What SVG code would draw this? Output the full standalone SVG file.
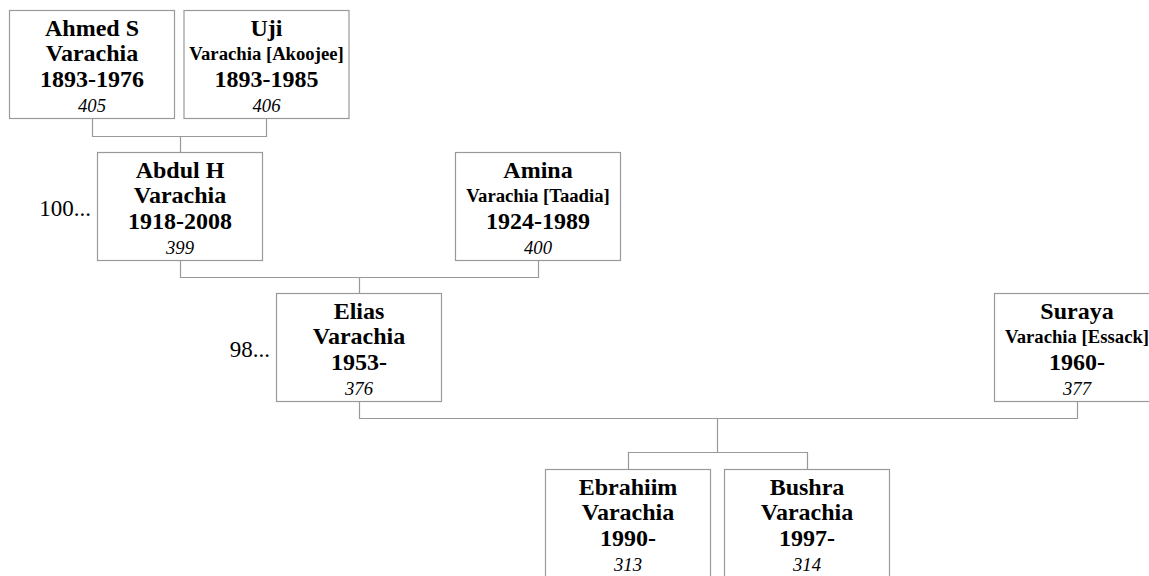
<svg xmlns="http://www.w3.org/2000/svg" width="1149" height="576" viewBox="0 0 1149 576">
<style>
  .box { fill: #ffffff; stroke: #999999; stroke-width: 1.2; }
  .conn { fill: none; stroke: #999999; stroke-width: 1.2; }
  text { font-family: "Liberation Serif", "Times New Roman", serif; fill: #000000; text-anchor: middle; }
  .n { font-size: 24px; font-weight: bold; }
  .s { font-size: 18.7px; font-weight: bold; }
  .id { font-size: 18.7px; font-style: italic; }
  .more { font-size: 23px; text-anchor: end; }
</style>
<rect x="0" y="0" width="1149" height="576" fill="#ffffff"/>
<g id="connectors">
  <path class="conn" d="M92.5,119 V136.5 H266.5 V119 M180.5,136.5 V152"/>
  <path class="conn" d="M180.5,261 V277.5 H538.5 V261 M359.5,277.5 V293"/>
  <path class="conn" d="M359.5,402 V418.5 H1077.5 V402 M717.5,418.5 V452.5"/>
  <path class="conn" d="M628.5,469 V452.5 H807.5 V469"/>
</g>
<g id="p405">
  <rect class="box" x="9.5" y="10.5" width="165" height="108"/>
  <text class="n" x="92" y="36">Ahmed S</text>
  <text class="n" x="92" y="61">Varachia</text>
  <text class="n" x="92" y="87">1893-1976</text>
  <text class="id" x="92" y="111.5">405</text>
</g>
<g id="p406">
  <rect class="box" x="184" y="10.5" width="165" height="108"/>
  <text class="n" x="266.5" y="36">Uji</text>
  <text class="s" x="266.5" y="60">Varachia [Akoojee]</text>
  <text class="n" x="266.5" y="87">1893-1985</text>
  <text class="id" x="266.5" y="111.5">406</text>
</g>
<g id="p399">
  <rect class="box" x="97.5" y="152.5" width="165" height="108"/>
  <text class="n" x="180" y="178">Abdul H</text>
  <text class="n" x="180" y="203">Varachia</text>
  <text class="n" x="180" y="229">1918-2008</text>
  <text class="id" x="180" y="253.5">399</text>
  <text class="more" x="91" y="216">100...</text>
</g>
<g id="p400">
  <rect class="box" x="455.5" y="152.5" width="165" height="108"/>
  <text class="n" x="538" y="178">Amina</text>
  <text class="s" x="538" y="202">Varachia [Taadia]</text>
  <text class="n" x="538" y="229">1924-1989</text>
  <text class="id" x="538" y="253.5">400</text>
</g>
<g id="p376">
  <rect class="box" x="276.5" y="293.5" width="165" height="108"/>
  <text class="n" x="359" y="319">Elias</text>
  <text class="n" x="359" y="344">Varachia</text>
  <text class="n" x="359" y="370">1953-</text>
  <text class="id" x="359" y="394.5">376</text>
  <text class="more" x="270" y="357">98...</text>
</g>
<g id="p377">
  <rect class="box" x="994.5" y="293.5" width="165" height="108"/>
  <text class="n" x="1077" y="319">Suraya</text>
  <text class="s" x="1077" y="343">Varachia [Essack]</text>
  <text class="n" x="1077" y="370">1960-</text>
  <text class="id" x="1077" y="394.5">377</text>
</g>
<g id="p313">
  <rect class="box" x="545.5" y="469.5" width="165" height="108"/>
  <text class="n" x="628" y="495">Ebrahiim</text>
  <text class="n" x="628" y="520">Varachia</text>
  <text class="n" x="628" y="546">1990-</text>
  <text class="id" x="628" y="570.5">313</text>
</g>
<g id="p314">
  <rect class="box" x="724.5" y="469.5" width="165" height="108"/>
  <text class="n" x="807" y="495">Bushra</text>
  <text class="n" x="807" y="520">Varachia</text>
  <text class="n" x="807" y="546">1997-</text>
  <text class="id" x="807" y="570.5">314</text>
</g>
</svg>
